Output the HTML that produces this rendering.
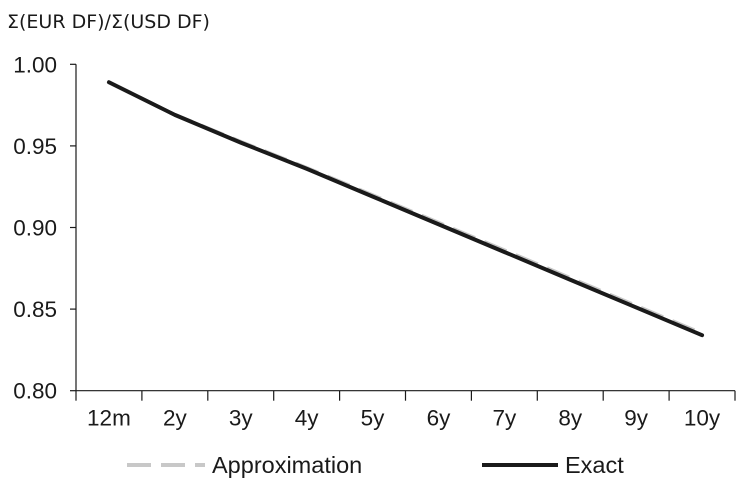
<!DOCTYPE html>
<html><head><meta charset="utf-8"><style>
body{margin:0;background:#fff;width:738px;height:483px;overflow:hidden}
svg{display:block}
text{font-family:"Liberation Sans",sans-serif;fill:#1a1a1a}
</style></head><body>
<svg id="chart" width="738" height="483">
<text x="7" y="28" font-size="19" style="font-family:'DejaVu Sans','Liberation Sans',sans-serif">Σ(EUR DF)/Σ(USD DF)</text>
<g id="axes"></g>
<g id="series"></g>
<g>
<line x1="127" y1="465" x2="205" y2="465" stroke="#c8c8c8" stroke-width="4" stroke-dasharray="24,10"/>
<text x="212" y="473" font-size="23.5">Approximation</text>
<line x1="482" y1="465" x2="558" y2="465" stroke="#1a1a1a" stroke-width="4"/>
<text x="565" y="473" font-size="23.5">Exact</text>
</g>
</svg>
<script>
const categories=["12m","2y","3y","4y","5y","6y","7y","8y","9y","10y"];
const exactValues=[0.989,0.969,0.952,0.936,0.919,0.902,0.885,0.868,0.851,0.834];
const approxValues=[0.989,0.969,0.9525,0.9365,0.9198,0.9029,0.886,0.869,0.852,0.835];
const yTicks=[0.80,0.85,0.90,0.95,1.00];
const yTickLabels=["0.80","0.85","0.90","0.95","1.00"];
const NS="http://www.w3.org/2000/svg";
const x0=76,x1=735,yBase=390.7,yTop=64.3,vMin=0.80,vMax=1.00;
const step=(x1-x0)/categories.length;
function xs(i){return x0+step*(i+0.5);}
function ys(v){return yBase-(v-vMin)/(vMax-vMin)*(yBase-yTop);}
function mk(tag,attrs,parent){const e=document.createElementNS(NS,tag);for(const k in attrs)e.setAttribute(k,attrs[k]);parent.appendChild(e);return e;}
const axes=document.getElementById('axes');
const ya=mk('line',{x1:x0,y1:yTop,x2:x0,y2:yBase,stroke:'#1a1a1a','stroke-width':1.2},axes);


const xa=mk('line',{x1:x0,y1:yBase,x2:x1,y2:yBase,stroke:'#1a1a1a','stroke-width':1.2},axes);


yTicks.forEach((v,i)=>{
  const y=ys(v);
  const t=mk('line',{x1:x0-6,y1:y,x2:x0,y2:y,stroke:'#1a1a1a','stroke-width':1.2},axes);
  
  
  const l=mk('text',{x:57,y:y+8,'font-size':22.5,'text-anchor':'end'},axes);
  l.textContent=yTickLabels[i];
  
  
});
for(let i=0;i<=categories.length;i++){
  const x=x0+step*i;
  const t=mk('line',{x1:x,y1:yBase,x2:x,y2:yBase+10,stroke:'#1a1a1a','stroke-width':1.2},axes);
  
  
}
categories.forEach((c,i)=>{
  const l=mk('text',{x:xs(i),y:yBase+35,'font-size':22.5,'text-anchor':'middle'},axes);
  l.textContent=c;
  
  
});
const series=document.getElementById('series');
const pa=mk('polyline',{points:approxValues.map((v,i)=>xs(i)+','+ys(v)).join(' '),fill:'none',stroke:'#c8c8c8','stroke-width':4,'stroke-dasharray':'24,10'},series);


const pe=mk('polyline',{points:exactValues.map((v,i)=>xs(i)+','+ys(v)).join(' '),fill:'none',stroke:'#1a1a1a','stroke-width':4,'stroke-linejoin':'round','stroke-linecap':'round'},series);


</script>
</body></html>
